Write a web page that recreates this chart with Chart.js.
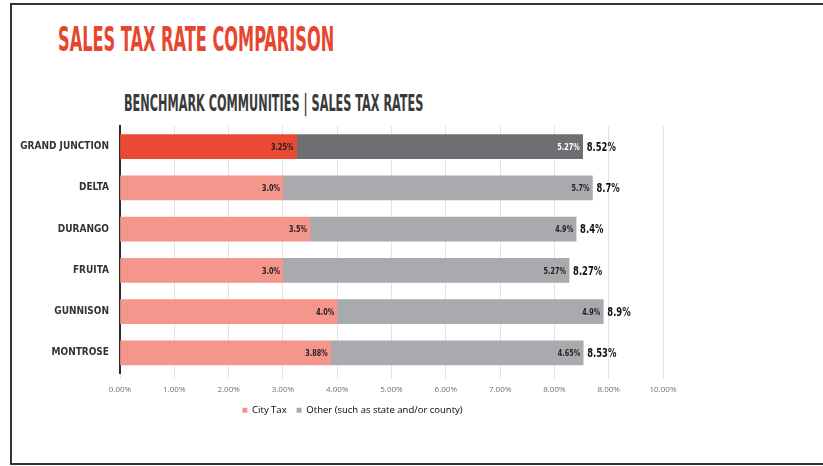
<!DOCTYPE html>
<html>
<head>
  <meta charset="UTF-8">
  <title>Sales Tax Rate Comparison</title>
  <script src="https://cdn.jsdelivr.net/npm/chart.js"></script>
  <style>
    body { margin: 0; background: #fff; width: 823px; height: 466px; overflow: hidden; position: relative; }
    .frame { position: absolute; left: 10px; top: 3px; width: 840px; height: 458px;
             border: 2px solid #333; border-right: none; }
    .title { position: absolute; left: 58px; top: 20px; font-family: "Liberation Sans Narrow", "DejaVu Sans Condensed", sans-serif;
             font-weight: bold; font-size: 33px; color: #e8452f; white-space: nowrap;
             transform: scaleX(0.545); transform-origin: left top; }
    .subtitle { position: absolute; left: 124px; top: 90px; font-family: "Liberation Sans Narrow", "DejaVu Sans Condensed", sans-serif;
                font-weight: bold; font-size: 23px; color: #3a3a3a; white-space: nowrap;
                transform: scaleX(0.545); transform-origin: left top; }
    .chart-container { position: absolute; left: 0; top: 109px; width: 700px; height: 316px; }
  </style>
</head>
<body>
  <div class="frame"></div>
  <div class="title">SALES TAX RATE COMPARISON</div>
  <div class="subtitle">BENCHMARK COMMUNITIES | SALES TAX RATES</div>

  <div class="chart-container">
    <canvas id="taxChart"></canvas>
  </div>

  <script>
    // values
    const communities = ['GRAND JUNCTION', 'DELTA', 'DURANGO', 'FRUITA', 'GUNNISON', 'MONTROSE'];
    const cityTax = [3.25, 3.0, 3.5, 3.0, 4.0, 3.88];
    const otherTax = [5.27, 5.7, 4.9, 5.27, 4.9, 4.65];
    const cityLabels = ['3.25%', '3.0%', '3.5%', '3.0%', '4.0%', '3.88%'];
    const otherLabels = ['5.27%', '5.7%', '4.9%', '5.27%', '4.9%', '4.65%'];
    const totalLabels = ['8.52%', '8.7%', '8.4%', '8.27%', '8.9%', '8.53%'];
    const tickLabels = ['0.00%', '1.00%', '2.00%', '3.00%', '4.00%', '5.00%', '6.00%', '7.00%', '8.00%', '8.00%', '10.00%'];
    const seriesNames = ['City Tax', 'Other (such as state and/or county)'];

    const cityColors = ['#ea4a34', '#f4968b', '#f4968b', '#f4968b', '#f4968b', '#f4968b'];
    const otherColors = ['#6e6f72', '#a9aaad', '#a9aaad', '#a9aaad', '#a9aaad', '#a9aaad'];
    const legendColors = ['#f4968b', '#a9aaad'];

    const narrow = '"Liberation Sans Narrow", "DejaVu Sans Condensed", sans-serif';

    // squeezed text, the original uses a condensed face
    function narrowText(ctx, text, x, y, align, sx) {
      ctx.save();
      ctx.translate(x, y);
      ctx.scale(sx, 1);
      ctx.textAlign = align;
      ctx.fillText(text, 0, 0);
      ctx.restore();
    }

    // draws the value labels on and beside the bars
    const barLabels = {
      id: 'barLabels',
      beforeDraw(chart) {
        // legend sits a little right of the plot centre in the original
        chart.legend.left += 21;
        chart.legend.right += 21;
      },
      afterDatasetsDraw(chart) {
        const ctx = chart.ctx;
        const city = chart.getDatasetMeta(0).data;
        const other = chart.getDatasetMeta(1).data;
        ctx.save();
        ctx.textBaseline = 'middle';
        for (let i = 0; i < communities.length; i++) {
          ctx.font = 'bold 9px ' + narrow;
          ctx.fillStyle = '#222';
          narrowText(ctx, cityLabels[i], city[i].x - 3, city[i].y + 1, 'right', 0.8);
          ctx.fillStyle = i === 0 ? '#fff' : '#222';
          narrowText(ctx, otherLabels[i], other[i].x - 3, other[i].y + 1, 'right', 0.8);
          ctx.font = 'bold 12px ' + narrow;
          ctx.fillStyle = '#111';
          narrowText(ctx, totalLabels[i], other[i].x + 4, other[i].y + 1, 'left', 0.78);
        }
        ctx.restore();
      }
    };

    const ctx = document.getElementById('taxChart').getContext('2d');
    const taxChart = new Chart(ctx, {
      type: 'bar',
      data: {
        labels: communities,
        datasets: [
          { label: seriesNames[0], data: cityTax, backgroundColor: cityColors, barThickness: 24 },
          { label: seriesNames[1], data: otherTax, backgroundColor: otherColors, barThickness: 24 }
        ]
      },
      plugins: [barLabels],
      options: {
        indexAxis: 'y',
        responsive: true,
        maintainAspectRatio: false,
        animation: false,
        layout: { padding: { top: 17, right: 37, left: 0, bottom: 0 } },
        scales: {
          x: {
            stacked: true,
            min: 0,
            max: 10,
            ticks: {
              stepSize: 1,
              color: '#6f6f6f',
              font: { family: '"Open Sans", sans-serif', size: 8 },
              padding: 6,
              callback: (v, i) => tickLabels[i]
            },
            grid: { color: '#e3e3e3', tickLength: 5 },
            border: { display: false },
            afterFit: s => { s.height = 22; }
          },
          y: {
            stacked: true,
            ticks: {
              color: '#333',
              font: { family: narrow, size: 10, weight: 'bold' },
              padding: 3
            },
            grid: { display: false },
            border: { display: true, color: '#2b2b2b', width: 2 },
            afterFit: s => { s.width = 120; }
          }
        },
        plugins: {
          legend: {
            position: 'bottom',
            labels: {
              boxWidth: 5,
              boxHeight: 5,
              padding: 10,
              color: '#777',
              font: { family: '"Open Sans", sans-serif', size: 9.5 },
              generateLabels: chart => seriesNames.map((name, i) => ({
                text: name, fillStyle: legendColors[i], strokeStyle: legendColors[i],
                lineWidth: 0, datasetIndex: i, hidden: false
              }))
            }
          },
          tooltip: { enabled: false }
        }
      }
    });
  </script>
</body>
</html>
